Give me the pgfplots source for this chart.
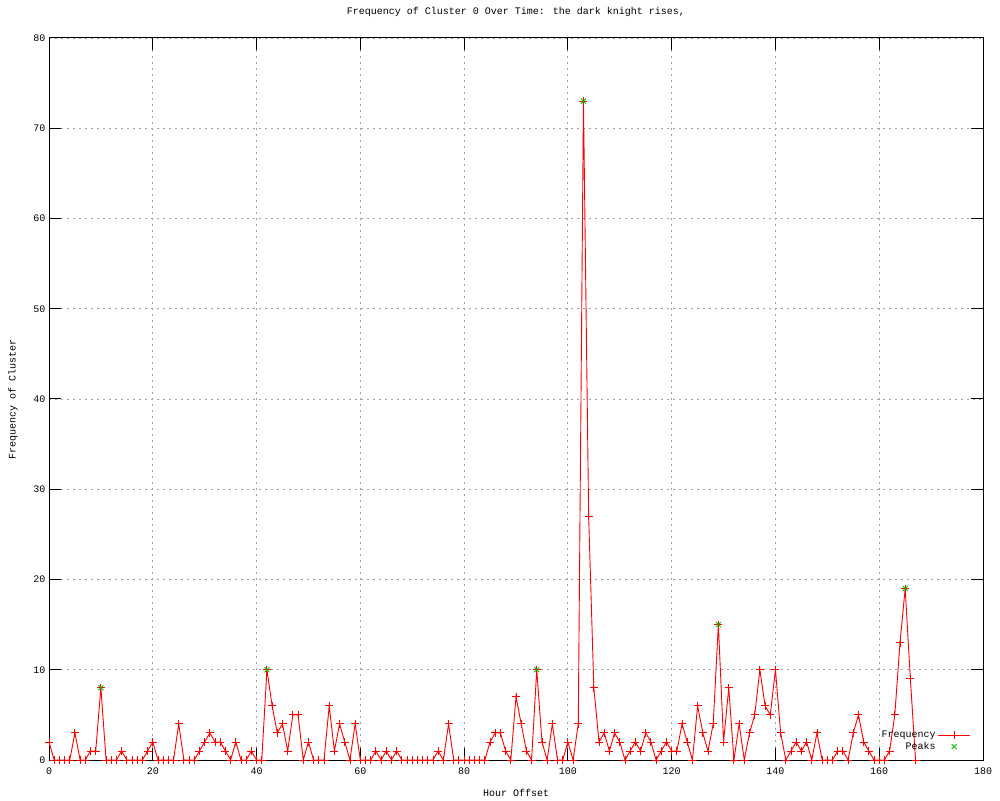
\documentclass[border=0pt]{standalone}
\usepackage{pgfplots}
\pgfplotsset{compat=1.18}
\usepackage{pgfplotstable}
\usepackage{fontspec}
\setmainfont{Liberation Mono}
\definecolor{gpred}{RGB}{255,0,0}
\definecolor{gpgreen}{RGB}{0,192,0}
\definecolor{gpgrid}{RGB}{160,160,160}

\pgfplotstableread{
x y
0 2
1 0
2 0
3 0
4 0
5 3
6 0
7 0
8 1
9 1
10 8
11 0
12 0
13 0
14 1
15 0
16 0
17 0
18 0
19 1
20 2
21 0
22 0
23 0
24 0
25 4
26 0
27 0
28 0
29 1
30 2
31 3
32 2
33 2
34 1
35 0
36 2
37 0
38 0
39 1
40 0
41 0
42 10
43 6
44 3
45 4
46 1
47 5
48 5
49 0
50 2
51 0
52 0
53 0
54 6
55 1
56 4
57 2
58 0
59 4
60 0
61 0
62 0
63 1
64 0
65 1
66 0
67 1
68 0
69 0
70 0
71 0
72 0
73 0
74 0
75 1
76 0
77 4
78 0
79 0
80 0
81 0
82 0
83 0
84 0
85 2
86 3
87 3
88 1
89 0
90 7
91 4
92 1
93 0
94 10
95 2
96 0
97 4
98 0
99 0
100 2
101 0
102 4
103 73
104 27
105 8
106 2
107 3
108 1
109 3
110 2
111 0
112 1
113 2
114 1
115 3
116 2
117 0
118 1
119 2
120 1
121 1
122 4
123 2
124 0
125 6
126 3
127 1
128 4
129 15
130 2
131 8
132 0
133 4
134 0
135 3
136 5
137 10
138 6
139 5
140 10
141 3
142 0
143 1
144 2
145 1
146 2
147 0
148 3
149 0
150 0
151 0
152 1
153 1
154 0
155 3
156 5
157 2
158 1
159 0
160 0
161 0
162 1
163 5
164 13
165 19
166 9
167 0
}\freqtable

\pgfplotstableread{
x y
10 8
42 10
94 10
103 73
129 15
165 19
}\peaktable

\begin{document}
\fontsize{10pt}{12pt}\selectfont
\begin{tikzpicture}
\path[use as bounding box] (0,0) rectangle (1000pt,800pt);
\begin{axis}[
  at={(49pt,40pt)}, anchor=south west,
  scale only axis, width=934pt, height=722pt,
  xmin=0, xmax=180, ymin=0, ymax=80,
  xtick={0,20,...,180}, ytick={0,10,...,80},
  xtick pos=both, ytick pos=both,
  tick align=inside, major tick length=12pt,
  tick style={black, line width=1pt},
  axis line style={black, line width=1pt},
  grid=major,
  grid style={gpgrid, dash pattern=on 2pt off 4pt, line width=0.9pt},
  /pgf/number format/assume math mode=true,
  tick label style={font=\fontsize{10pt}{12pt}\selectfont},
  xticklabel style={yshift=-4pt},
  title={Frequency of Cluster 0 Over Time: the dark knight rises,},
  title style={at={(axis description cs:0.5,1.0277)}, anchor=center, font=\fontsize{10pt}{12pt}\selectfont},
  xlabel={Hour Offset},
  xlabel style={at={(axis description cs:0.5,-0.0457)}, anchor=center, font=\fontsize{10pt}{12pt}\selectfont},
  ylabel={Frequency of Cluster},
  ylabel style={at={(axis description cs:-0.0385,0.5)}, anchor=center, rotate=0, font=\fontsize{10pt}{12pt}\selectfont},
  clip=false,
  legend plot pos=right,
  legend cell align=right,
  legend image code/.code={\draw[mark repeat=2,mark phase=2,#1] plot coordinates {(2pt,0pt) (18pt,0pt) (34pt,0pt)};},
  legend style={at={(axis description cs:0.988,0.008)}, anchor=south east, draw=none, fill=none,
    font=\fontsize{10pt}{12pt}\selectfont, row sep=-1pt, inner sep=1pt},
]
\addplot[gpred, line width=0.9pt, mark=+, mark size=4pt, mark options={solid, line width=0.9pt}] table[x=x,y=y] {\freqtable};
\addlegendentry{Frequency}
\addplot[gpgreen, only marks, mark=x, mark size=3.5pt, mark options={line width=0.9pt}] table[x=x,y=y] {\peaktable};
\addlegendentry{Peaks}
\end{axis}
\end{tikzpicture}
\end{document}
